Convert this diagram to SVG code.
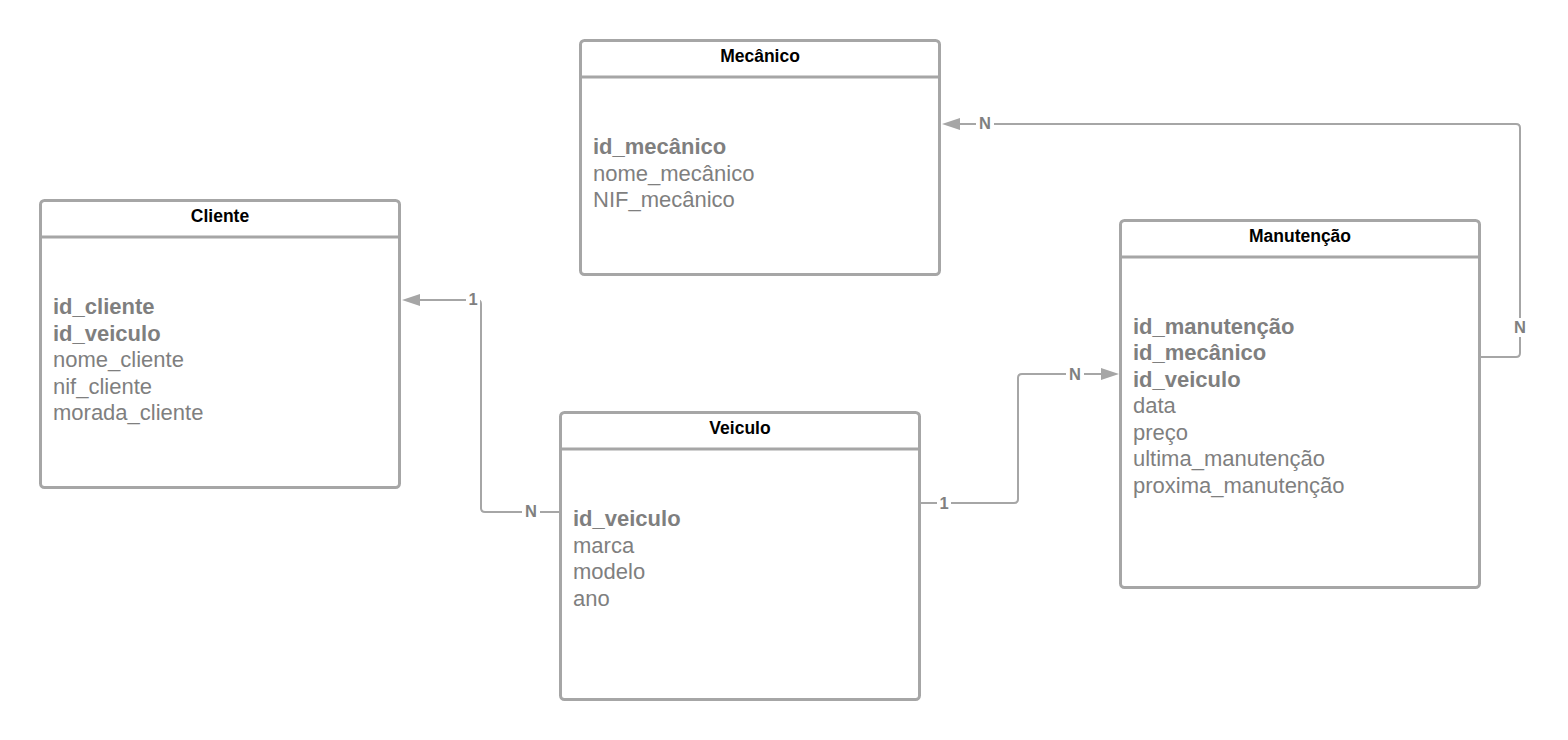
<svg xmlns="http://www.w3.org/2000/svg" width="1568" height="740" viewBox="0 0 1568 740">
<defs>
<style>
.box{fill:#ffffff;stroke:#a6a6a6;stroke-width:3}
.div{stroke:#a6a6a6;stroke-width:3}
.title{font-family:"Liberation Sans",Arial,sans-serif;font-size:17.5px;font-weight:bold;fill:#000000;text-anchor:middle}
.f{font-family:"Liberation Sans",Arial,sans-serif;font-size:22px;fill:#7f7f7f}
.k{font-weight:bold}
.con{fill:none;stroke:#a6a6a6;stroke-width:2;stroke-linejoin:round}
.lbl{font-family:"Liberation Sans",Arial,sans-serif;font-size:16.5px;font-weight:bold;fill:#808080;text-anchor:middle}
.lblbg{fill:#ffffff}
.ah{fill:#a6a6a6}
</style>
</defs>
<rect width="1568" height="740" fill="#ffffff"/>
<g id="connectors">
<path class="con" d="M560,512 H485 Q481,512 481,508 V304 Q481,300 477,300 H418"/>
<polygon class="ah" points="402,300 420,294 420,306"/>
<path class="con" d="M920,503 H1014 Q1018,503 1018,499 V378 Q1018,374 1022,374 H1102"/>
<polygon class="ah" points="1119,374 1101,368 1101,380"/>
<path class="con" d="M1480,357 H1516 Q1520,357 1520,353 V128 Q1520,124 1516,124 H959"/>
<polygon class="ah" points="942,124 960,118 960,130"/>
<rect class="lblbg" x="466" y="290" width="14" height="18"/>
<text class="lbl" x="473" y="305">1</text>
<rect class="lblbg" x="522" y="502" width="18" height="18"/>
<text class="lbl" x="531" y="517">N</text>
<rect class="lblbg" x="937" y="494" width="14" height="18"/>
<text class="lbl" x="944" y="509">1</text>
<rect class="lblbg" x="1066" y="365" width="18" height="18"/>
<text class="lbl" x="1075" y="380">N</text>
<rect class="lblbg" x="1511" y="318" width="18" height="19"/>
<text class="lbl" x="1520" y="333">N</text>
<rect class="lblbg" x="976" y="115" width="18" height="18"/>
<text class="lbl" x="985" y="129">N</text>
</g>
<g id="mecanico">
<rect class="box" x="580.5" y="40.5" width="359" height="234" rx="4"/>
<line class="div" x1="580.5" y1="77" x2="939.5" y2="77"/>
<text class="title" x="760" y="62">Mecânico</text>
<text class="f k" x="593" y="154">id_mecânico</text>
<text class="f" x="593" y="180.5">nome_mecânico</text>
<text class="f" x="593" y="207">NIF_mecânico</text>
</g>
<g id="cliente">
<rect class="box" x="40.5" y="200.5" width="359" height="287" rx="4"/>
<line class="div" x1="40.5" y1="237" x2="399.5" y2="237"/>
<text class="title" x="220" y="222">Cliente</text>
<text class="f k" x="53" y="314">id_cliente</text>
<text class="f k" x="53" y="340.5">id_veiculo</text>
<text class="f" x="53" y="367">nome_cliente</text>
<text class="f" x="53" y="393.5">nif_cliente</text>
<text class="f" x="53" y="420">morada_cliente</text>
</g>
<g id="veiculo">
<rect class="box" x="560.5" y="412.5" width="359" height="287" rx="4"/>
<line class="div" x1="560.5" y1="449" x2="919.5" y2="449"/>
<text class="title" x="740" y="434">Veiculo</text>
<text class="f k" x="573" y="526">id_veiculo</text>
<text class="f" x="573" y="552.5">marca</text>
<text class="f" x="573" y="579">modelo</text>
<text class="f" x="573" y="605.5">ano</text>
</g>
<g id="manutencao">
<rect class="box" x="1120.5" y="220.5" width="359" height="367" rx="4"/>
<line class="div" x1="1120.5" y1="257" x2="1479.5" y2="257"/>
<text class="title" x="1300" y="242">Manutenção</text>
<text class="f k" x="1133" y="333.5">id_manutenção</text>
<text class="f k" x="1133" y="360">id_mecânico</text>
<text class="f k" x="1133" y="386.5">id_veiculo</text>
<text class="f" x="1133" y="413">data</text>
<text class="f" x="1133" y="439.5">preço</text>
<text class="f" x="1133" y="466">ultima_manutenção</text>
<text class="f" x="1133" y="492.5">proxima_manutenção</text>
</g>
</svg>
